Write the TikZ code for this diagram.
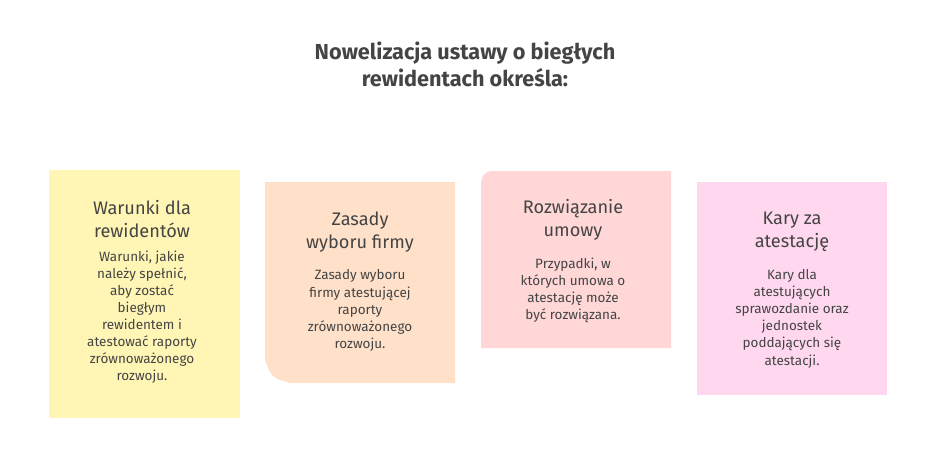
\documentclass[tikz,border=0pt]{standalone}
\usepackage{fontspec}
\setmainfont{Fira Sans}
\usetikzlibrary{positioning}
\definecolor{noteyellow}{HTML}{FFF6B5}
\definecolor{notepeach}{HTML}{FFE1C9}
\definecolor{notepink}{HTML}{FFD7D7}
\definecolor{notemagenta}{HTML}{FFD8EF}
\definecolor{inkgray}{HTML}{444444}
\tikzset{
  notetitle/.style={text=inkgray, font=\fontsize{15.5}{19.5}\selectfont, align=center},
  notebody/.style={text=inkgray, font=\fontsize{11.5}{14.6}\selectfont, align=center}
}
\begin{document}
\begin{tikzpicture}[x=0.03cm, y=-0.03cm]
  \useasboundingbox[fill=white] (0,0) rectangle (936,469);
  % title
  \node[text=inkgray, font=\bfseries\fontsize{18.5}{23}\selectfont, align=center] (title) at (465,64)
    {Nowelizacja ustawy o biegłych\\rewidentach określa:};
  % sticky notes
  \fill[noteyellow] (49,170) rectangle (240,418);
  \fill[notepeach] (265,182) -- (455,182) -- (455,383) -- (290,383) .. controls (272,378) .. (265,360) -- cycle;
  \fill[notepink] (490,171) -- (671,171) -- (671,348) -- (481,348) -- (481,185) .. controls (482,175) .. (490,171) -- cycle;
  \fill[notemagenta] (697,182) -- (887,182) -- (887,395) -- (697,395) -- cycle;
  % texts
  \node[notetitle] (t1) at (142,219) {Warunki dla\\rewidentów};
  \node[notebody, below=4pt of t1] (b1) {Warunki, jakie\\należy spełnić,\\aby zostać\\biegłym\\rewidentem i\\atestować raporty\\zrównoważonego\\rozwoju.};
  \node[notetitle] (t2) at (360,232) {Zasady\\wyboru firmy};
  \node[notebody, below=8pt of t2] (b2) {Zasady wyboru\\firmy atestującej\\raporty\\zrównoważonego\\rozwoju.};
  \node[notetitle] (t3) at (573,220) {Rozwiązanie\\umowy};
  \node[notebody, below=8pt of t3] (b3) {Przypadki, w\\których umowa o\\atestację może\\być rozwiązana.};
  \node[notetitle] (t4) at (792,232) {Kary za\\atestację};
  \node[notebody, below=8pt of t4] (b4) {Kary dla\\atestujących\\sprawozdanie oraz\\jednostek\\poddających się\\atestacji.};
\end{tikzpicture}
\end{document}
